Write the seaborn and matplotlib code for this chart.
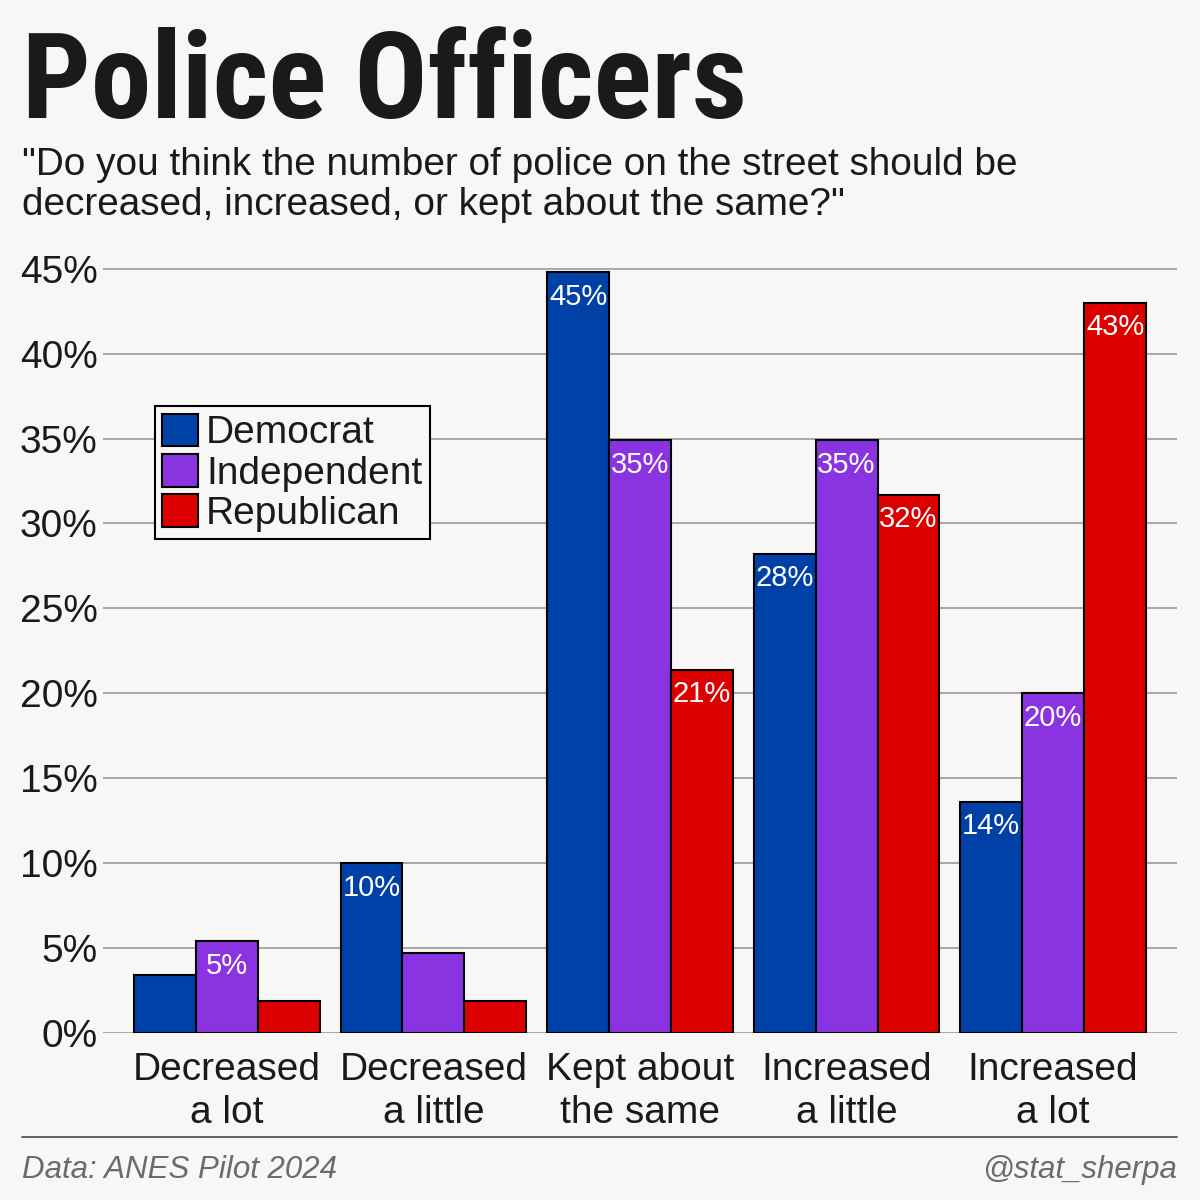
import numpy as np
import pandas as pd
import matplotlib
matplotlib.use("Agg")
import matplotlib.pyplot as plt
from matplotlib import font_manager
import seaborn as sns

# data (percent of respondents)
categories = ["Decreased\na lot", "Decreased\na little", "Kept about\nthe same",
              "Increased\na little", "Increased\na lot"]
parties = ["Democrat", "Independent", "Republican"]
democrat = [3.4, 10.0, 44.8, 28.2, 13.6]
independent = [5.4, 4.7, 34.9, 34.9, 20.0]
republican = [1.9, 1.9, 21.4, 31.7, 43.0]
y_ticks = [0, 5, 10, 15, 20, 25, 30, 35, 40, 45]

party_colors = {"Democrat": "#0041A8", "Independent": "#8A33E0", "Republican": "#DD0000"}
bg = "#F8F7F5"
ink = "#1a1a1a"

df = pd.DataFrame({
    "answer": categories * 3,
    "party": [p for p in parties for _ in categories],
    "pct": democrat + independent + republican,
})

sns.set_theme(style="white")
plt.rcParams["font.family"] = ["Liberation Sans", "DejaVu Sans"]
plt.rcParams["figure.facecolor"] = bg
plt.rcParams["axes.facecolor"] = bg

# pick a condensed face for the headline if one is installed
installed = {f.name for f in font_manager.fontManager.ttflist}
title_family = "DejaVu Sans"
for cand in ["Roboto Condensed", "Liberation Sans Narrow", "Open Sans Condensed",
             "Noto Sans Condensed", "DejaVu Sans Condensed"]:
    if cand in installed:
        title_family = cand
        break

fig = plt.figure(figsize=(12, 12), dpi=100)
ax = fig.add_axes([103 / 1200, 1 - 1033 / 1200, 1074 / 1200, 768.5 / 1200])

sns.barplot(data=df, x="answer", y="pct", hue="party", order=categories,
            hue_order=parties, palette=party_colors, width=0.9, gap=0,
            edgecolor="black", linewidth=1.5, saturation=1, ax=ax, zorder=3)

ax.set_xlim(-0.6, 4.6)
ax.set_ylim(0, 45.25)
ax.set_yticks(y_ticks)
ax.set_yticklabels([f"{t}%" for t in y_ticks])
ax.grid(True, axis="y", color="#9A9A9A", linewidth=1.2, zorder=0)
ax.set_axisbelow(True)
ax.set_xlabel("")
ax.set_ylabel("")
for s in ax.spines.values():
    s.set_visible(False)
ax.tick_params(axis="y", length=0, pad=4, labelsize=28, labelcolor=ink)
ax.tick_params(axis="x", length=0, pad=14, labelsize=28, labelcolor=ink)
for lbl in ax.get_xticklabels():
    lbl.set_linespacing(1.22)

# value labels inside the top of bars that are big enough
for cont in ax.containers:
    for bar in cont:
        h = bar.get_height()
        if h >= 5:
            ax.annotate(f"{h:.0f}%", (bar.get_x() + bar.get_width() / 2, h),
                        xytext=(0, -7.5), textcoords="offset points",
                        ha="center", va="top", color="white", fontsize=21, zorder=5)

leg = ax.legend(loc="upper left", bbox_to_anchor=(0.048, 0.816), fontsize=28,
                frameon=True, fancybox=False, edgecolor="black", facecolor=bg,
                framealpha=1, handlelength=0.92, handleheight=0.92,
                handletextpad=0.2, labelspacing=0.06, borderpad=0.2,
                borderaxespad=0)
leg.get_frame().set_linewidth(1.5)
for t in leg.get_texts():
    t.set_color(ink)

# header
title = fig.text(22 / 1200, 1 - 118 / 1200, "Police Officers",
                 family=[title_family, "DejaVu Sans"], fontweight="bold",
                 fontsize=80, color=ink, ha="left", va="baseline")
# fit headline to the reference width (about 725 px)
renderer = fig.canvas.get_renderer()
w = title.get_window_extent(renderer).width
title.set_fontsize(min(80 * 725 / w, 118))

fig.text(22 / 1200, 1 - 215 / 1200,
         "\"Do you think the number of police on the street should be\n"
         "decreased, increased, or kept about the same?\"",
         fontsize=27.9, color=ink, ha="left", va="baseline", linespacing=1.15)

# footer
fig.add_artist(plt.Line2D([22 / 1200, 1177 / 1200], [1 - 1137 / 1200] * 2,
                          color="#555555", linewidth=1.3))
fig.text(22 / 1200, 1 - 1170 / 1200, "Data: ANES Pilot 2024", fontsize=22.5,
         style="italic", color="#6b6b6b", ha="left", va="center")
fig.text(1177 / 1200, 1 - 1170 / 1200, "@stat_sherpa", fontsize=22.5,
         style="italic", color="#6b6b6b", ha="right", va="center")

fig.savefig("out.png", dpi=100, facecolor=bg)
